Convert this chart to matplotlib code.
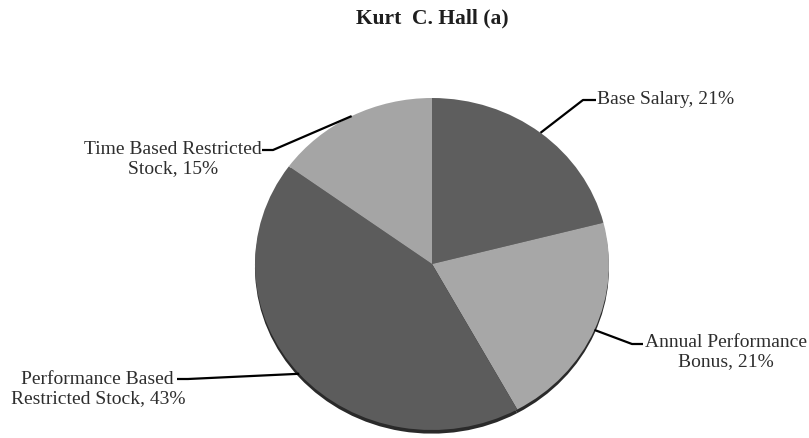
import numpy as np
import matplotlib.pyplot as plt

# datos del grafico
categorias = ['Base Salary', 'Annual Performance\nBonus',
              'Performance Based\nRestricted Stock', 'Time Based Restricted\nStock']
porcentajes = [21, 21, 43, 15]
colores = ['#5e5e5e', '#a7a7a7', '#5c5c5c', '#a5a5a5']

plt.rcParams['font.family'] = ['Liberation Serif', 'DejaVu Serif']

W, H = 809, 439
cx, cy = 432, 265      # centro del pastel (pixeles de la imagen)
rx, ry = 177, 166      # radios horizontal / vertical


def px(x, y):
    # pixel de la imagen -> coordenadas de datos
    return (x - cx) / rx, (cy - y) / ry


fig = plt.figure(figsize=(W / 100, H / 100), dpi=100)
ax = fig.add_axes([0, 0, 1, 1])

# sombra bajo el pastel
ax.pie(porcentajes, colors=['#2a2a2a'] * 4, startangle=90, counterclock=False,
       center=(0, -0.022), radius=1.0, wedgeprops={'linewidth': 0})
wedges, _ = ax.pie(porcentajes, colors=colores, startangle=90, counterclock=False,
                   center=(0, 0), radius=1.0, wedgeprops={'linewidth': 0})

ax.set_aspect('auto')
ax.set_xlim((0 - cx) / rx, (W - cx) / rx)
ax.set_ylim((cy - H) / ry, cy / ry)
ax.axis('off')

# posicion de textos y codos de las lineas guia (pixeles)
codos = [(583, 101), (632, 345), (188, 380), (273, 151)]
fin_linea = [(596, 101), (643, 345), (177, 380), (262, 151)]
pos_texto = [(597, 100), (645, 352), (185, 389), (262, 159)]
alineacion = ['left', 'left', 'right', 'right']

for w, cat, pct, codo, fin, pt, ha in zip(wedges, categorias, porcentajes,
                                            codos, fin_linea, pos_texto, alineacion):
    ang = np.deg2rad((w.theta1 + w.theta2) / 2)
    x0, y0 = np.cos(ang), np.sin(ang)
    x1, y1 = px(*codo)
    x2, y2 = px(*fin)
    ax.plot([x0, x1, x2], [y0, y1, y2], color='black', lw=1.6,
            solid_capstyle='butt', zorder=5)
    tx, ty = px(*pt)
    ax.text(tx, ty, f'{cat}, {pct}%', ha=ha, va='center', multialignment='center',
            fontsize=14, color='#2e2e2e', linespacing=1.12)

fig.text(432 / W, 1 - 18 / H, 'Kurt  C. Hall (a)', ha='center', va='center',
         fontsize=15.5, fontweight='bold', color='#1e1e1e')

fig.savefig('out.png', dpi=100)
